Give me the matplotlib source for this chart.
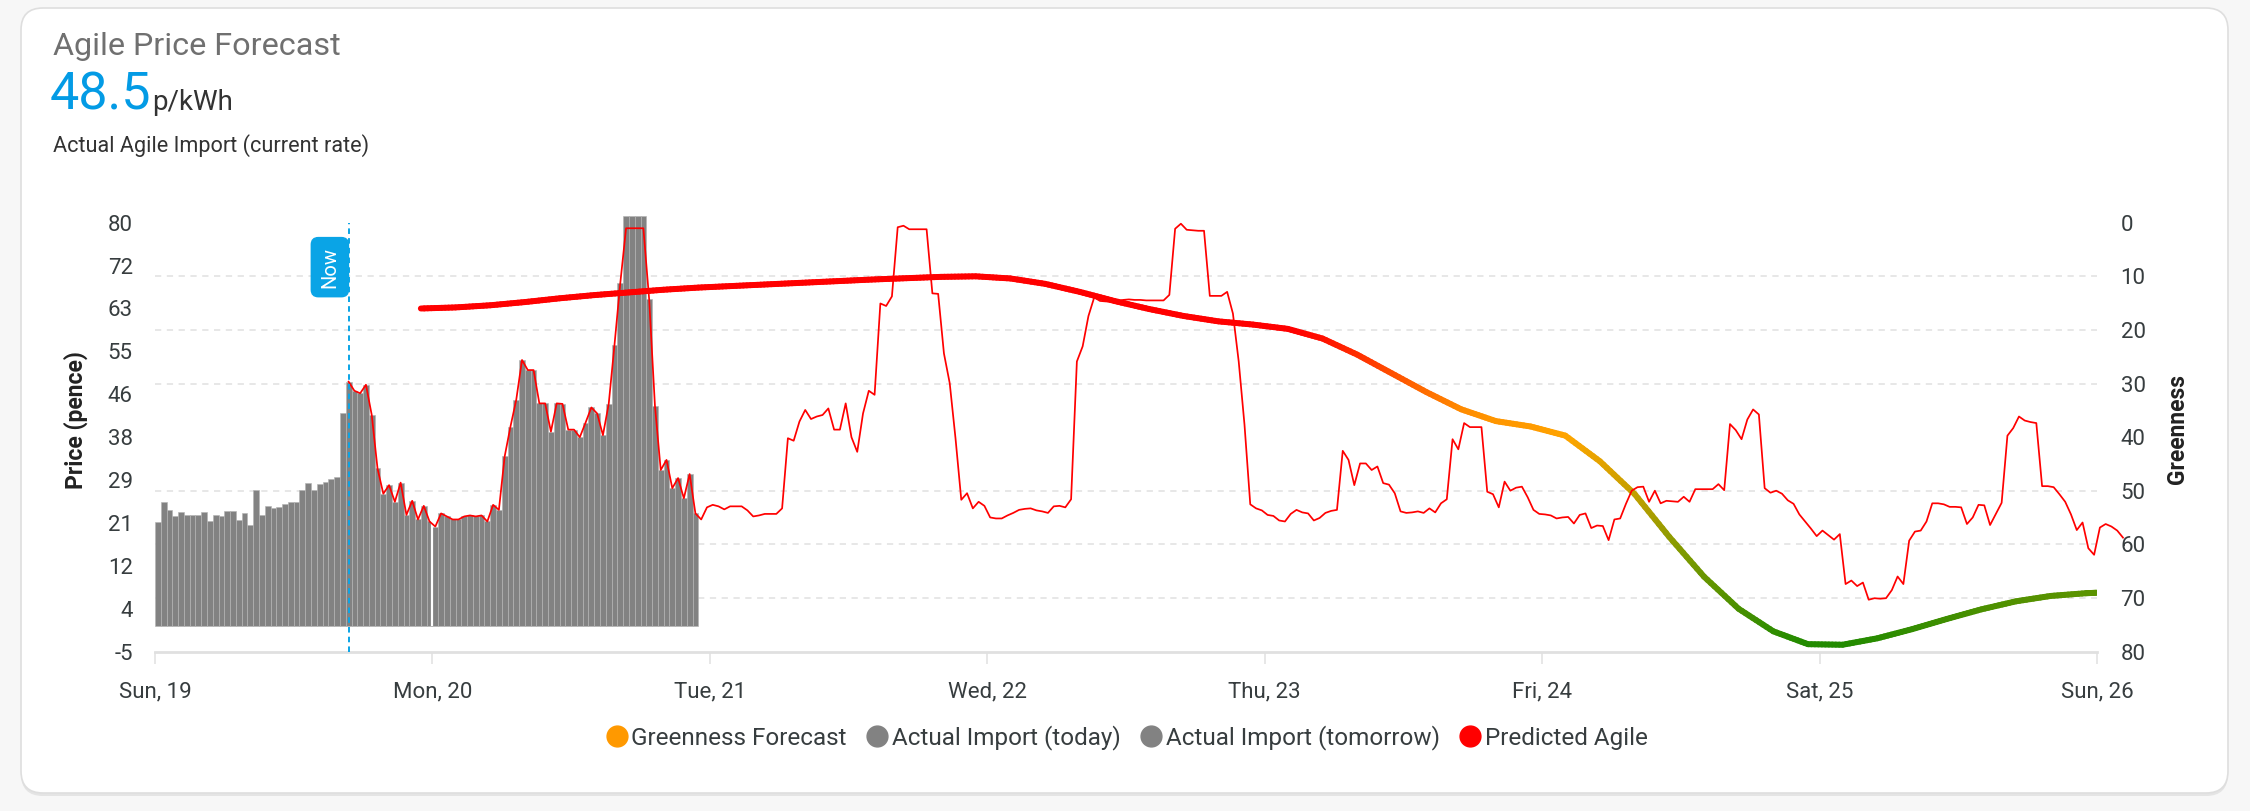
import numpy as np
import matplotlib
matplotlib.use('Agg')
import matplotlib.pyplot as plt
from matplotlib.collections import LineCollection
from matplotlib.colors import LinearSegmentedColormap
from matplotlib.patches import FancyBboxPatch
from matplotlib.lines import Line2D
from matplotlib.transforms import IdentityTransform

plt.rcParams['font.family'] = ['Roboto', 'DejaVu Sans']
plt.rcParams['lines.scale_dashes'] = False

# -------------- data --------------
day_labels = ['Sun, 19', 'Mon, 20', 'Tue, 21', 'Wed, 22', 'Thu, 23', 'Fri, 24', 'Sat, 25', 'Sun, 26']
price_ticks = np.linspace(-5, 80, 11)
price_tick_labels = ['-5', '4', '12', '21', '29', '38', '46', '55', '63', '72', '80']
green_ticks = [0, 10, 20, 30, 40, 50, 60, 70, 80]

current_rate = 48.5
now_hour = 16.75          # hours after Sun 19 00:00

# actual import (p/kWh), half-hour slots from Sun 19 00:00
import_today = [
    20.7, 24.6, 23.0, 21.8, 22.6, 22.0, 22.0, 22.0, 22.6, 20.9, 22.0, 21.8,
    22.9, 22.9, 21.0, 22.5, 20.2, 27.0, 22.0, 23.9, 23.4, 23.7, 24.3, 24.6,
    24.6, 27.0, 28.5, 27.0, 28.2, 28.6, 29.2, 29.6, 42.2, 48.5, 46.7, 46.2,
    47.9, 41.9, 31.3, 26.3, 28.0, 24.7, 28.5, 22.1, 24.9, 21.2, 23.9, 20.8,
]
# half-hour slots from Mon 20 00:00
import_tomorrow = [
    19.8, 22.4, 21.8, 21.2, 21.2, 21.8, 22.0, 21.8, 22.0, 20.8, 24.1, 23.1,
    33.7, 39.6, 44.9, 52.8, 50.8, 50.8, 44.2, 44.2, 38.6, 44.2, 44.1, 39.0,
    39.0, 37.5, 40.4, 43.4, 42.2, 37.9, 44.1, 55.8, 68.0, 81.3, 81.3, 81.3,
    81.3, 64.8, 43.7, 31.0, 33.0, 27.4, 29.4, 25.4, 30.2, 22.4,
]

# predicted agile (p/kWh), every half hour starting at the "now" slot
agile_start = 16.75
agile_pred = [
    # Sun 19
    48.5, 46.7, 46.2, 47.9, 41.9, 31.3, 26.3, 28.0, 24.7, 28.5, 22.1, 24.9, 21.2, 23.9, 20.8,
    # Mon 20
    19.8, 22.4, 21.8, 21.2, 21.2, 21.8, 22.0, 21.8, 22.0, 20.8, 24.1, 23.1,
    33.7, 39.6, 44.9, 52.8, 50.8, 50.8, 44.2, 44.2, 38.6, 44.2, 44.1, 39.0,
    39.0, 37.5, 40.4, 43.4, 42.2, 37.9, 44.1, 55.8, 68.0, 78.9, 78.9, 78.9,
    78.9, 64.8, 43.7, 31.0, 33.0, 27.4, 29.4, 25.4, 30.2, 22.4, 21.2, 23.6,
    # Tue 21
    24.1, 23.8, 23.2, 23.8, 23.8, 23.8, 23.0, 21.8, 22.0, 22.3, 22.3, 22.3,
    23.4, 37.3, 36.8, 40.6, 42.9, 41.1, 41.6, 41.9, 43.2, 39.0, 39.0, 44.2,
    37.5, 34.6, 42.2, 46.7, 45.9, 64.0, 63.5, 65.4, 79.1, 79.4, 78.7, 78.7,
    78.7, 78.7, 66.0, 65.9, 54.1, 48.2, 37.3, 25.1, 26.4, 23.4, 24.7, 23.9,
    # Wed 22
    21.6, 21.4, 21.4, 22.0, 22.5, 23.1, 23.3, 23.4, 23.0, 22.8, 22.5, 23.8,
    23.9, 23.6, 25.2, 52.5, 55.5, 61.5, 65.2, 64.5, 64.4, 64.4, 64.4, 64.7,
    64.8, 64.7, 64.7, 64.6, 64.6, 64.6, 64.6, 65.7, 78.8, 79.8, 78.6, 78.5,
    78.4, 78.4, 65.5, 65.5, 65.5, 66.3, 62.0, 52.5, 40.0, 24.2, 23.4, 23.0,
    # Thu 23
    22.1, 21.9, 21.0, 20.8, 22.3, 23.1, 22.6, 22.4, 21.0, 21.5, 22.5, 22.9,
    23.1, 34.8, 33.0, 28.0, 32.3, 32.3, 31.0, 31.7, 28.4, 28.1, 26.4, 22.8,
    22.5, 22.6, 22.8, 22.5, 23.4, 22.6, 24.4, 25.2, 37.1, 35.1, 40.3, 39.5,
    39.5, 39.5, 26.7, 26.2, 23.6, 28.7, 26.9, 27.5, 27.7, 25.6, 23.1, 22.3,
    # Fri 24
    22.2, 22.0, 21.4, 21.6, 21.7, 20.4, 22.1, 22.4, 19.5, 20.0, 19.9, 17.1,
    21.2, 21.4, 24.3, 26.9, 27.6, 27.7, 24.7, 26.9, 24.4, 24.9, 24.8, 24.7,
    25.7, 24.7, 27.2, 27.2, 27.2, 27.2, 28.2, 27.0, 40.1, 38.9, 37.1, 41.0,
    43.0, 42.0, 27.4, 26.5, 26.9, 26.3, 25.0, 24.3, 22.2, 20.8, 19.4, 17.9,
    # Sat 25
    19.0, 18.1, 17.2, 18.3, 8.4, 9.1, 8.0, 8.7, 5.3, 5.6, 5.5, 5.6,
    7.2, 9.9, 8.4, 17.0, 18.8, 19.0, 20.8, 24.4, 24.4, 24.2, 23.7, 23.7,
    23.6, 20.3, 21.6, 24.1, 24.0, 20.1, 22.3, 24.5, 37.8, 39.3, 41.6, 40.8,
    40.5, 40.3, 27.8, 27.8, 27.6, 26.2, 24.7, 22.2, 19.1, 20.6, 15.5, 14.2,
    # Sun 26
    19.6, 20.3, 19.8, 19.0, 17.6,
]

# greenness forecast, from Sun 23:00 every 3 hours
green_hours = list(range(23, 168, 3)) + [168]
green_vals = [
    16.0, 15.8, 15.4, 14.8, 14.1, 13.5, 13.0, 12.5, 12.1, 11.8,
    11.5, 11.2, 10.9, 10.6, 10.35, 10.1, 10.0, 10.4, 11.4, 12.9,
    14.6, 16.1, 17.4, 18.4, 19.0, 19.8, 21.6, 24.6, 28.1, 31.6,
    34.8, 37.0, 38.0, 39.7, 44.5, 50.6, 58.6, 66.0, 72.0, 76.2,
    78.6, 78.7, 77.5, 75.8, 73.9, 72.1, 70.6, 69.6, 69.1, 69.0,
]

# -------------- styling --------------
TXT = '#373d3f'
GRID = '#e0e0e0'
BAR = '#828282'
RED = '#ff0000'
NOW = '#0aa4e6'
green_cmap = LinearSegmentedColormap.from_list('greenness', [
    (0.0, '#ff0000'), (20 / 80, '#ff0000'), (28 / 80, '#ff4d00'),
    (35 / 80, '#ff8c00'), (40 / 80, '#ffa500'), (50 / 80, '#c8a000'),
    (62 / 80, '#7f9a00'), (72 / 80, '#4c9000'), (1.0, '#1a8a00')])

W, H = 2250, 811
fig = plt.figure(figsize=(W / 100, H / 100), dpi=100, facecolor='#f7f7f7')

# card background
shadow = FancyBboxPatch((21, 15), 2207, 786, boxstyle='round,pad=0,rounding_size=22',
                        transform=IdentityTransform(), facecolor='#e4e4e4', edgecolor='none', zorder=-3)
card = FancyBboxPatch((21, 18), 2207, 785, boxstyle='round,pad=0,rounding_size=22',
                      transform=IdentityTransform(), facecolor='white', edgecolor='#dedede',
                      linewidth=1.2, zorder=-2)
fig.add_artist(shadow)
fig.add_artist(card)

# header
fig.text(53 / W, 1 - 55 / H, 'Agile Price Forecast', fontsize=23.3, color='#707070', va='baseline')
fig.text(50 / W, 1 - 110 / H, f'{current_rate}', fontsize=37.5, color='#039be5', va='baseline')
fig.text(152 / W, 1 - 110 / H, 'p/kWh', fontsize=20, color='#333333', va='baseline')
fig.text(53 / W, 1 - 152 / H, 'Actual Agile Import (current rate)', fontsize=15.6, color='#333333', va='baseline')

ax = fig.add_axes([155 / W, 159.3 / H, 1942 / W, 429 / H])
ax2 = ax.twinx()

# gridlines follow the greenness axis (9 lines over the same height)
ax.set_yticks(np.linspace(-5, 80, 9), minor=True)
ax.yaxis.grid(True, which='minor', color=GRID, linewidth=1.1, linestyle=(0, (4.5, 4.0)))
ax.set_axisbelow(True)

# actual import bars
t_today = np.arange(len(import_today)) * 0.5
t_tomorrow = 24 + np.arange(len(import_tomorrow)) * 0.5
ax.bar(t_today, import_today, width=0.5, align='edge', color=BAR,
       edgecolor='#b4b4b4', linewidth=0.45, clip_on=False, zorder=2)
ax.bar(t_tomorrow, import_tomorrow, width=0.5, align='edge', color=BAR,
       edgecolor='#b4b4b4', linewidth=0.45, clip_on=False, zorder=2)
ax.vlines(t_tomorrow[0], 0, max(import_today[-1], import_tomorrow[0]), color='white', linewidth=1.6, zorder=3)

ax.set_xlim(0, 168)
ax.set_ylim(-5, 80)
ax.set_yticks(price_ticks)
ax.set_yticklabels(price_tick_labels)
ax.set_xticks(np.arange(0, 169, 24))
ax.set_xticklabels(day_labels)
ax.tick_params(axis='y', which='both', length=0, pad=16, labelsize=16, labelcolor=TXT)
ax.tick_params(axis='x', length=8.5, width=1.1, color=GRID, pad=13, labelsize=16, labelcolor=TXT)
for s in ['left', 'right', 'top']:
    ax.spines[s].set_visible(False)
ax.spines['bottom'].set_color(GRID)
ax.spines['bottom'].set_linewidth(2)
ax.set_ylabel('Price (pence)', fontsize=16.5, fontweight='bold', color='#222222')
ax.yaxis.set_label_coords(-0.0345, 0.54)

# greenness forecast (right axis, inverted)
ax2.set_ylim(80, 0)
ax2.set_yticks(green_ticks)
ax2.tick_params(axis='y', length=0, pad=17, labelsize=16, labelcolor=TXT)
for s in ax2.spines.values():
    s.set_visible(False)
ax2.set_ylabel('Greenness', fontsize=16.5, fontweight='bold', color='#222222', rotation=90)
ax2.yaxis.set_label_coords(1.0355, 0.52)

gx = np.asarray(green_hours, float)
gy = np.asarray(green_vals, float)
# split each straight piece so its colour can follow the value
px = np.concatenate([np.linspace(gx[i], gx[i + 1], 10, endpoint=False) for i in range(len(gx) - 1)] + [gx[-1:]])
py = np.interp(px, gx, gy)
segs = np.stack([np.column_stack([px[:-1], py[:-1]]), np.column_stack([px[1:], py[1:]])], axis=1)
lc = LineCollection(segs, cmap=green_cmap, norm=plt.Normalize(0, 80), linewidths=4.3,
                    capstyle='round', joinstyle='round', zorder=2)
lc.set_array((py[:-1] + py[1:]) / 2)
ax2.add_collection(lc)

# predicted agile, thin red line on the price scale
t_pred = agile_start + np.arange(len(agile_pred)) * 0.5
ax2.plot(t_pred, agile_pred, color=RED, linewidth=1.25, transform=ax.transData,
         clip_on=False, zorder=3, solid_joinstyle='round')

# now marker
ax2.axvline(now_hour, color=NOW, linewidth=1.4, linestyle=(0, (4, 3)), zorder=4)
ax2.annotate('Now', xy=(now_hour, 80), xycoords=ax.transData, xytext=(-13.5, -32),
             textcoords='offset points', rotation=90, ha='center', va='center',
             fontsize=14.5, color='white', zorder=5,
             bbox=dict(boxstyle='round,pad=0.45,rounding_size=0.35', facecolor=NOW, edgecolor=NOW))

# legend
handles = [
    Line2D([], [], marker='o', linestyle='', markersize=15, color='#ff9900'),
    Line2D([], [], marker='o', linestyle='', markersize=15, color=BAR),
    Line2D([], [], marker='o', linestyle='', markersize=15, color=BAR),
    Line2D([], [], marker='o', linestyle='', markersize=15, color=RED),
]
labels = ['Greenness Forecast', 'Actual Import (today)', 'Actual Import (tomorrow)', 'Predicted Agile']
leg = fig.legend(handles, labels, ncol=4, loc='center', bbox_to_anchor=(1126 / W, 1 - 738 / H),
                 frameon=False, fontsize=17.5, handletextpad=0.1, columnspacing=0.75,
                 handlelength=1.0, labelcolor=TXT)

fig.savefig('out.png', dpi=100, facecolor=fig.get_facecolor())
